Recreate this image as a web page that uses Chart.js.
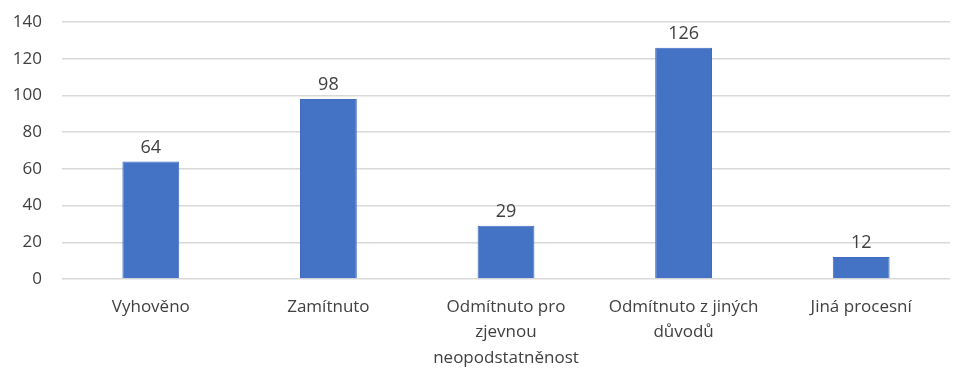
<!DOCTYPE html>
<html>
<head>
<meta charset="utf-8">
<script src="https://cdn.jsdelivr.net/npm/chart.js@4"></script>
<style>
    html, body { margin: 0; padding: 0; background: #fff; }
    #wrap { width: 955px; height: 368px; }
</style>
</head>
<body>
<div id="wrap"><canvas id="chart"></canvas></div>
<script>
const categories = [
    ['Vyhověno'],
    ['Zamítnuto'],
    ['Odmítnuto pro', 'zjevnou', 'neopodstatněnost'],
    ['Odmítnuto z jiných', 'důvodů'],
    ['Jiná procesní']
];
const counts = [64, 98, 29, 126, 12];
const yTicks = [0, 20, 40, 60, 80, 100, 120, 140];

const textColor = '#404040';
const fontFamily = '"Open Sans", sans-serif';

// simple value labels above bars
const barValues = {
    id: 'barValues',
    afterDatasetsDraw(chart) {
        const ctx = chart.ctx;
        ctx.save();
        ctx.fillStyle = textColor;
        ctx.font = '18px ' + fontFamily;
        ctx.textAlign = 'center';
        ctx.textBaseline = 'bottom';
        chart.getDatasetMeta(0).data.forEach(function (bar, i) {
            ctx.fillText(counts[i], bar.x, bar.y - 5);
        });
        ctx.restore();
    }
};

new Chart(document.getElementById('chart'), {
    type: 'bar',
    data: {
        labels: categories,
        datasets: [{
            data: counts,
            backgroundColor: '#4472C4',
            borderColor: '#3F6CC0',
            borderWidth: 1,
            barPercentage: 0.32,
            categoryPercentage: 1
        }]
    },
    options: {
        responsive: true,
        maintainAspectRatio: false,
        animation: false,
        layout: { padding: { top: 22, right: 5, left: 8, bottom: 0 } },
        plugins: {
            legend: { display: false },
            tooltip: { enabled: false }
        },
        scales: {
            x: {
                afterFit(scale) {
                    scale.height = 89;
                    scale.paddingTop = 0;
                },
                grid: { display: false, drawTicks: false },
                border: { display: false },
                ticks: {
                    color: textColor,
                    font: { family: fontFamily, size: 17, lineHeight: 1.5 },
                    padding: 15,
                    maxRotation: 0,
                    autoSkip: false
                }
            },
            y: {
                min: 0,
                max: 140,
                afterFit(scale) {
                    scale.width = 54;
                    scale.paddingTop = 0;
                    scale.paddingBottom = 0;
                },
                afterBuildTicks(axis) {
                    axis.ticks = yTicks.map(v => ({ value: v }));
                },
                grid: { color: '#d9d9d9', lineWidth: 1.5, drawTicks: false },
                border: { display: false },
                ticks: {
                    color: textColor,
                    font: { family: fontFamily, size: 17 },
                    padding: 20
                }
            }
        }
    },
    plugins: [barValues]
});
</script>
</body>
</html>
